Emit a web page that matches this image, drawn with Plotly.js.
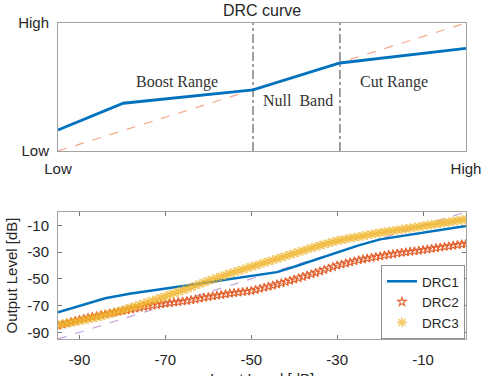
<!DOCTYPE html>
<html>
<head>
<meta charset="utf-8">
<script src="https://cdn.plot.ly/plotly-3.0.1.min.js"></script>
<style>html,body{margin:0;padding:0;background:#fff;}#chart{width:482px;height:376px;}</style>
</head>
<body>
<div id="chart"></div>
<script>
// ---- Top panel: schematic DRC curve (normalised Low..High) ----
var schemX = [0, 0.16, 0.478, 0.691, 1];
var schemY = [0.164, 0.373, 0.477, 0.6875, 0.802];
var identX = [0, 1];
var identY = [0, 1];
var bandEdges = [0.478, 0.691];
var schemTickLabels = ['Low', 'High'];
var regionLabels = ['Boost Range', 'Null\u00a0\u00a0Band', 'Cut Range'];

// ---- Bottom panel: measured DRC curves (dB) ----
var drc1In  = [-95, -90, -84, -78, -70, -65, -60, -55, -50, -44, -40, -35, -30, -25, -20, -15, -10, -5, 0];
var drc1Out = [-75, -70, -64.5, -61, -57.5, -55, -52.5, -50, -48, -45, -41, -35.5, -30, -25, -20.5, -18, -15.5, -13.5, -10.5];

var inputLevel = [-95,-94,-93,-92,-91,-90,-89,-88,-87,-86,-85,-84,-83,-82,-81,-80,-79,-78,-77,-76,
  -75,-74,-73,-72,-71,-70,-69,-68,-67,-66,-65,-64,-63,-62,-61,-60,-59,-58,-57,-56,
  -55,-54,-53,-52,-51,-50,-49,-48,-47,-46,-45,-44,-43,-42,-41,-40,-39,-38,-37,-36,
  -35,-34,-33,-32,-31,-30,-29,-28,-27,-26,-25,-24,-23,-22,-21,-20,-19,-18,-17,-16,
  -15,-14,-13,-12,-11,-10,-9,-8,-7,-6,-5,-4,-3,-2,-1,0];

var drc2Out = [-85.0,-84.1,-83.2,-82.3,-81.4,-80.5,-79.8,-79.1,-78.4,-77.7,
  -77.0,-76.4,-75.8,-75.2,-74.6,-74.0,-73.4,-72.8,-72.2,-71.6,
  -71.0,-70.5,-70.0,-69.5,-69.0,-68.5,-68.1,-67.7,-67.3,-66.9,
  -66.5,-65.9,-65.3,-64.7,-64.1,-63.5,-63.0,-62.5,-62.0,-61.5,
  -61.0,-60.6,-60.2,-59.8,-59.4,-59.0,-58.2,-57.4,-56.6,-55.8,
  -55.0,-54.1,-53.2,-52.3,-51.4,-50.5,-49.5,-48.5,-47.5,-46.5,
  -45.5,-44.4,-43.3,-42.2,-41.1,-40.0,-39.2,-38.4,-37.6,-36.8,
  -36.0,-35.4,-34.8,-34.2,-33.6,-33.0,-32.5,-32.0,-31.5,-31.0,
  -30.5,-30.1,-29.7,-29.3,-28.9,-28.5,-28.0,-27.5,-27.0,-26.5,
  -26.0,-25.6,-25.1,-24.7,-24.2,-23.8];

var drc3Out = [-84.5,-83.9,-83.3,-82.7,-82.1,-81.5,-80.8,-80.1,-79.4,-78.7,
  -78.0,-77.1,-76.2,-75.3,-74.4,-73.5,-72.5,-71.5,-70.5,-69.5,
  -68.5,-67.4,-66.3,-65.2,-64.1,-63.0,-61.9,-60.8,-59.7,-58.6,
  -57.5,-56.3,-55.1,-53.9,-52.7,-51.5,-50.4,-49.3,-48.2,-47.1,
  -46.0,-45.0,-44.0,-43.0,-42.0,-41.0,-40.0,-39.0,-38.0,-37.0,
  -36.0,-35.0,-34.0,-33.0,-32.0,-31.0,-30.0,-29.0,-28.0,-27.0,
  -26.0,-25.1,-24.2,-23.3,-22.4,-21.5,-20.9,-20.3,-19.7,-19.1,
  -18.5,-17.9,-17.3,-16.7,-16.1,-15.5,-15.0,-14.5,-14.0,-13.5,
  -13.0,-12.5,-12.0,-11.5,-11.0,-10.5,-10.0,-9.5,-9.0,-8.5,
  -8.0,-7.5,-7.0,-6.5,-6.0,-5.5];

var refLineIn  = [-95, 0];
var refLineOut = [-95, 0];
var dbTicks = [-90, -70, -50, -30, -10];
var dbTickLabels = ['-90', '-70', '-50', '-30', '-10'];
var seriesNames = ['DRC1', 'DRC2', 'DRC3'];
var xTitle = 'Input Level [dB]';
var yTitle = 'Output Level [dB]';

var FONT = 'Liberation Sans, Arial, sans-serif';
var SERIF = 'Liberation Serif, Times New Roman, serif';
var AXC = '#a3a3a3';

var traces = [
  {x: identX, y: identY, xaxis: 'x', yaxis: 'y', mode: 'lines', showlegend: false, hoverinfo: 'skip',
   line: {color: '#f4a98c', width: 1.2, dash: 'dash'}},
  {x: [bandEdges[0], bandEdges[0], null, bandEdges[1], bandEdges[1]], y: [0, 1, null, 0, 1],
   xaxis: 'x', yaxis: 'y', mode: 'lines', showlegend: false, hoverinfo: 'skip',
   line: {color: '#606060', width: 1.2, dash: 'dashdot'}},
  {x: schemX, y: schemY, xaxis: 'x', yaxis: 'y', mode: 'lines', showlegend: false,
   line: {color: '#0072BD', width: 2.8}},

  {x: refLineIn, y: refLineOut, xaxis: 'x2', yaxis: 'y2', mode: 'lines', showlegend: false, hoverinfo: 'skip',
   line: {color: '#c7a6dc', width: 1.2, dash: 'dash'}},
  {x: drc1In, y: drc1Out, xaxis: 'x2', yaxis: 'y2', mode: 'lines', name: seriesNames[0],
   line: {color: '#0072BD', width: 2.5}},
  {x: inputLevel, y: drc2Out, xaxis: 'x2', yaxis: 'y2', mode: 'markers', name: seriesNames[1],
   marker: {symbol: 'star-open', size: 6.5, color: '#E2622F', line: {width: 1.1, color: '#E2622F'}}},
  {x: inputLevel, y: drc3Out, xaxis: 'x2', yaxis: 'y2', mode: 'markers', name: seriesNames[2],
   marker: {symbol: 'asterisk-open', size: 8, color: 'rgba(240,180,40,0.7)', line: {width: 1.6, color: 'rgba(240,180,40,0.7)'}}}
];

var layout = {
  width: 482, height: 376,
  margin: {l: 58, r: 16, t: 23, b: 37, pad: 0},
  paper_bgcolor: '#ffffff', plot_bgcolor: '#ffffff',
  font: {family: FONT, size: 15, color: '#262626'},
  showlegend: true,
  title: {text: 'DRC curve', font: {family: FONT, size: 16, color: '#262626'},
          x: 0.5, xref: 'paper', xanchor: 'center', y: 1 - 10/376, yref: 'container', yanchor: 'middle'},
  xaxis: {domain: [0, 1], range: [0, 1], anchor: 'y', tickmode: 'array', tickvals: [0, 1], ticktext: schemTickLabels,
          ticks: '', showgrid: false, zeroline: false, showline: true, mirror: true, linecolor: AXC, linewidth: 1,
          ticklabelstandoff: 4, tickfont: {size: 15, family: FONT, color: '#262626'}, fixedrange: true},
  yaxis: {domain: [0.595, 1], range: [0, 1], anchor: 'x', tickmode: 'array', tickvals: [0, 1], ticktext: schemTickLabels,
          ticks: '', showgrid: false, zeroline: false, showline: true, mirror: true, linecolor: AXC, linewidth: 1,
          ticklabelstandoff: 5, tickfont: {size: 15, family: FONT, color: '#262626'}, fixedrange: true},
  xaxis2: {domain: [0, 1], range: [-95, 0], anchor: 'y2', tickmode: 'array', tickvals: dbTicks, ticktext: dbTickLabels,
           ticks: 'inside', ticklen: 4, tickcolor: '#777', showgrid: false, zeroline: false, showline: true,
           mirror: 'ticks', linecolor: AXC, linewidth: 1, ticklabelstandoff: 7,
           tickfont: {size: 15, family: FONT, color: '#262626'}, automargin: false},
  yaxis2: {domain: [0, 0.402], range: [-95, 0], anchor: 'x2', tickmode: 'array', tickvals: dbTicks, ticktext: dbTickLabels,
           ticks: 'inside', ticklen: 4, tickcolor: '#777', showgrid: false, zeroline: false, showline: true,
           mirror: 'ticks', linecolor: AXC, linewidth: 1, ticklabelstandoff: 5,
           tickfont: {size: 15, family: FONT, color: '#262626'},
           title: {text: yTitle, font: {size: 15, family: FONT, color: '#262626'}, standoff: 6},
           automargin: false},
  legend: {x: 0.9975, xanchor: 'right', y: 0.0, yanchor: 'bottom', bgcolor: '#ffffff',
           bordercolor: '#8c8c8c', borderwidth: 1, font: {size: 13.5, family: FONT, color: '#262626'},
           tracegroupgap: 0, itemwidth: 30},
  annotations: [
    {text: regionLabels[0], x: 0.292, y: 0.539, xref: 'x', yref: 'y', showarrow: false,
     font: {family: SERIF, size: 16, color: '#333'}},
    {text: regionLabels[1], x: 0.588, y: 0.398, xref: 'x', yref: 'y', showarrow: false,
     font: {family: SERIF, size: 16, color: '#333'}},
    {text: regionLabels[2], x: 0.824, y: 0.539, xref: 'x', yref: 'y', showarrow: false,
     font: {family: SERIF, size: 16, color: '#333'}},
    // bottom x-axis title, sitting at the lower page edge (partly cut off as in the reference)
    {text: xTitle, x: 0.5, xref: 'paper', xanchor: 'center', y: (339 - 368) / 316, yref: 'paper', yanchor: 'top',
     showarrow: false, font: {family: FONT, size: 15, color: '#262626'}}
  ]
};

Plotly.newPlot('chart', traces, layout, {displayModeBar: false, staticPlot: true});
</script>
</body>
</html>
